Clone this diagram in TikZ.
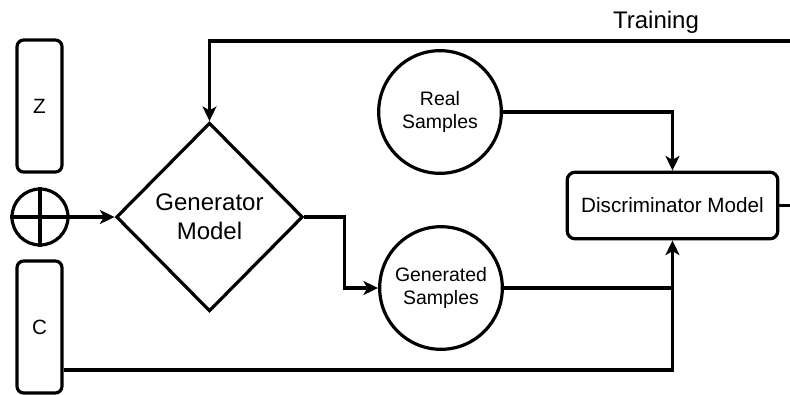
\documentclass[tikz,border=0pt]{standalone}
\usepackage{fontspec}
\setmainfont{Liberation Sans}
\usetikzlibrary{shapes.geometric,arrows.meta}
\begin{document}
\begin{tikzpicture}[x=0.75pt,y=-0.75pt,
  line width=2.4pt,
  tip/.style={-{Stealth[length=11pt,width=10.5pt,inset=3pt]}},
  varbox/.style={draw,rounded corners=5pt,minimum width=33.75pt,minimum height=99pt,inner sep=0pt,font=\fontsize{15.5}{18}\selectfont},
  sample/.style={draw,circle,minimum size=92pt,inner sep=0pt,align=center,font=\fontsize{14.6}{17.2}\selectfont},
  genbox/.style={draw,diamond,aspect=1,minimum width=140pt,minimum height=141.5pt,inner sep=0pt,align=center,font=\fontsize{18}{21.5}\selectfont},
  discbox/.style={draw,rounded corners=6pt,minimum width=158pt,minimum height=50pt,inner sep=0pt,font=\fontsize{15.5}{18}\selectfont},
  lbl/.style={font=\fontsize{18}{21}\selectfont,inner sep=0pt}]
\useasboundingbox (0,0) rectangle (790,394);
\clip (0,0) rectangle (790,394);
\node[varbox] (z) at (39.5,106) {Z};
\node[varbox] (c) at (39.5,327) {C};
\node[draw,circle,minimum size=42pt,inner sep=0pt] (oplus) at (40,217) {};
\draw (oplus.north) -- (oplus.south) (oplus.west) -- (oplus.east);
\node[genbox] (gen) at (209.5,217) {Generator\\Model};
\node[sample] (real) at (440,112) {Real\\Samples};
\node[sample] (gs) at (441,288) {Generated\\Samples};
\node[discbox] (disc) at (672.5,205.5) {Discriminator Model};
\node[lbl] (train) at (656,22) {Training};
\draw[tip] (oplus.east) -- (gen.west);
\draw[tip] (gen.east) -- ++(40,0) |- (gs.west);
\draw[tip] (real.east) -| (disc.north);
\draw (gs.east) -- (gs.east -| disc.south);
\draw[tip] (c.east |- 0,370) -| (disc.south);
\draw[tip] (disc.east) -- ++(30,0) coordinate (r) -- (r |- 0,41) -| (gen.north);
\end{tikzpicture}
\end{document}
